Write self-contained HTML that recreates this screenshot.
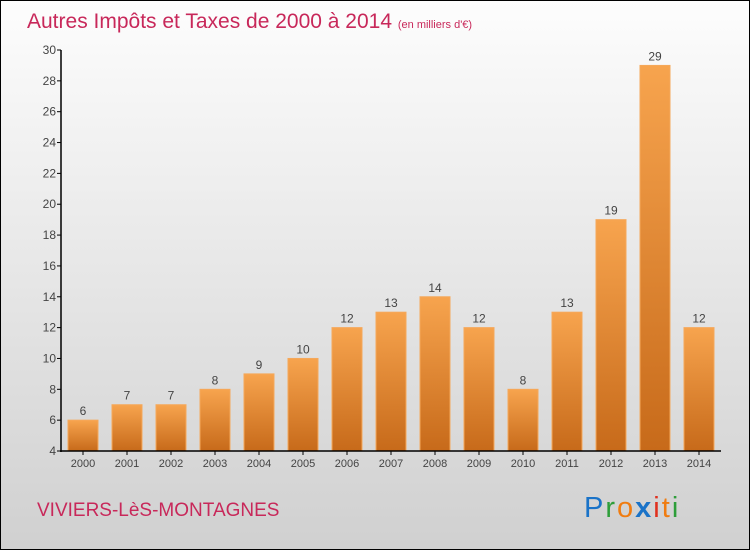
<!DOCTYPE html>
<html><head><meta charset="utf-8"><style>
body{margin:0;}
#c{position:relative;width:748px;height:548px;border:1px solid #000;background:linear-gradient(#fdfdfd,#d0d0d0);overflow:hidden;font-family:"Liberation Sans",sans-serif;}
</style></head><body>
<div id="c">
<svg id="s" width="748" height="548" style="position:absolute;left:0;top:0">
<defs><linearGradient id="bg" x1="0" y1="0" x2="0" y2="1"><stop offset="0" stop-color="#f7a44e"/><stop offset="1" stop-color="#c76a1a"/></linearGradient></defs>
<text x="26" y="27" font-size="21" fill="#c8285a">Autres Impôts et Taxes de 2000 à 2014 <tspan font-size="11">(en milliers d'€)</tspan></text>
<text x="36" y="515" font-size="19" fill="#c8285a">VIVIERS-LèS-MONTAGNES</text>
<text x="583" y="516" font-size="29" letter-spacing="2"><tspan fill="#1a73c8">P</tspan><tspan fill="#2e9e3a">r</tspan><tspan fill="#f07c10">o</tspan><tspan fill="#1a73c8" font-weight="bold">x</tspan><tspan fill="#e0301e">i</tspan><tspan fill="#f07c10">t</tspan><tspan fill="#2e9e3a">i</tspan></text>
<g id="g"></g>
</svg>
</div>
<script>
const years=["2000","2001","2002","2003","2004","2005","2006","2007","2008","2009","2010","2011","2012","2013","2014"];
const values=[6,7,7,8,9,10,12,13,14,12,8,13,19,29,12];
const yTicks=[4,6,8,10,12,14,16,18,20,22,24,26,28,30];
const NS="http://www.w3.org/2000/svg";
const g=document.getElementById('g');
const y=v=>450-(v-4)*(401/26);
const x=i=>82+i*44;
function mk(t,a){const e=document.createElementNS(NS,t);for(const k in a)e.setAttribute(k,a[k]);g.appendChild(e);return e;}
yTicks.forEach(v=>{
 const l=mk('line',{x1:56,x2:60,y1:y(v),y2:y(v),stroke:'#000'});
 
 
 const t=mk('text',{x:55,y:y(v)+4,'text-anchor':'end','font-size':12,fill:'#444'});
 t.textContent=v;
 
 
});
values.forEach((v,i)=>{
 const r=mk('rect',{x:x(i)-15,y:y(v),width:30,height:450-y(v),fill:'url(#bg)',stroke:'#f5a85a','stroke-width':1});
 
 
 const t=mk('text',{x:x(i),y:y(v)-5,'text-anchor':'middle','font-size':12,fill:'#444'});
 t.textContent=v;
 
 
 const k=mk('line',{x1:x(i),x2:x(i),y1:450,y2:454,stroke:'#000'});
 
 
 const xl=mk('text',{x:x(i),y:466,'text-anchor':'middle','font-size':11,fill:'#444'});
 xl.textContent=years[i];
 
 
});
const ya=mk('line',{x1:60,x2:60,y1:y(30),y2:451,stroke:'#000','stroke-width':1.5});


const xa=mk('line',{x1:59,x2:720,y1:450,y2:450,stroke:'#000','stroke-width':1.5});


</script>
</body></html>
